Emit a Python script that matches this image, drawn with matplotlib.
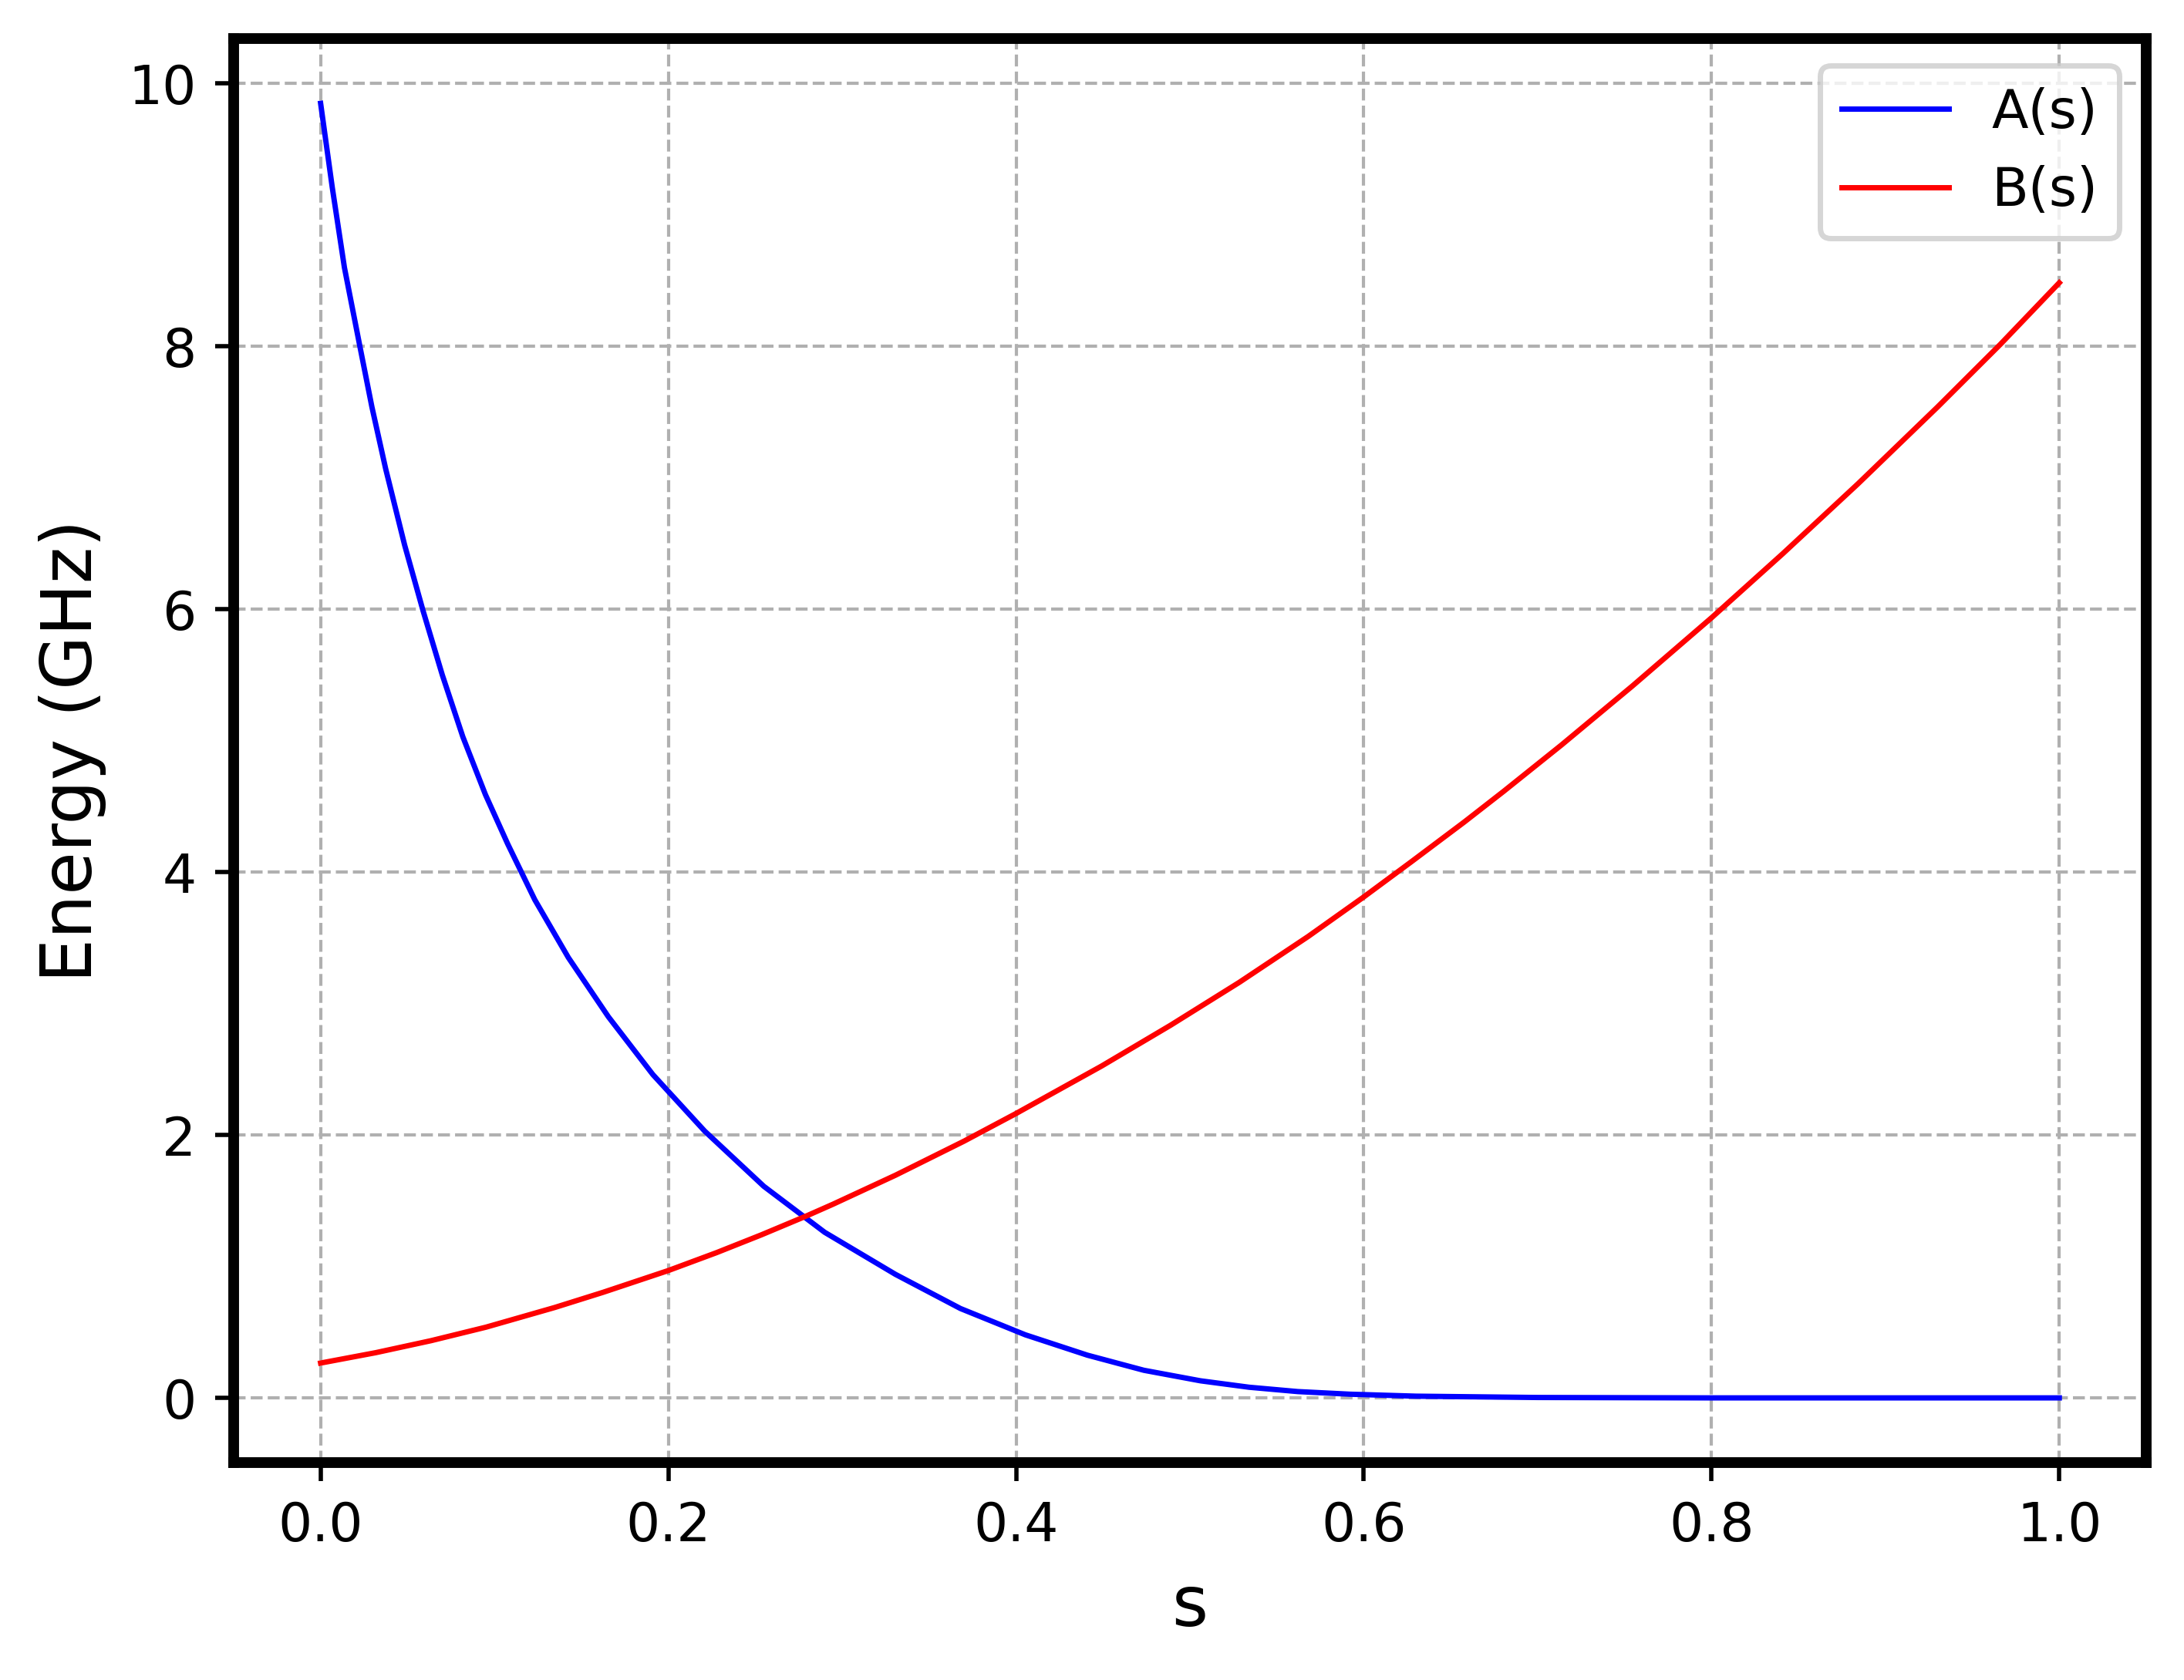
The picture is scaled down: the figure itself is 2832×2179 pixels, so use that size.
import matplotlib
matplotlib.use("Agg")
import matplotlib.pyplot as plt

# A(s)
s_a = [0.0, 0.0067, 0.0137, 0.0226, 0.0295, 0.0374, 0.0483, 0.0589, 0.070,
       0.0818, 0.0948, 0.1076, 0.1232, 0.1425, 0.1655, 0.1911, 0.2209, 0.2549,
       0.2899, 0.3306, 0.368, 0.4053, 0.441, 0.4735, 0.506, 0.534, 0.562,
       0.592, 0.63, 0.7, 0.8, 0.9, 1.0]
a_vals = [9.85, 9.21, 8.60, 8.0, 7.54, 7.07, 6.49, 5.99, 5.50,
          5.03, 4.59, 4.215, 3.79, 3.35, 2.90, 2.46, 2.03, 1.61,
          1.26, 0.94, 0.68, 0.48, 0.325, 0.21, 0.13, 0.081, 0.048,
          0.028, 0.013, 0.003, 0.0, 0.0, 0.0]

# B(s)
s_b = [0.0, 0.0317, 0.0634, 0.0951, 0.1347, 0.1624, 0.2, 0.2277, 0.2534,
       0.2792, 0.2946, 0.3306, 0.37, 0.4, 0.4492, 0.4888, 0.5284, 0.568,
       0.6, 0.6274, 0.6577, 0.6804, 0.7136, 0.7544, 0.8, 0.841, 0.8842,
       0.930, 0.966, 1.0]
b_vals = [0.265, 0.344, 0.435, 0.538, 0.688, 0.803, 0.969, 1.105, 1.240,
          1.383, 1.473, 1.694, 1.953, 2.164, 2.525, 2.835, 3.162, 3.511,
          3.812, 4.080, 4.381, 4.615, 4.967, 5.416, 5.936, 6.424, 6.955,
          7.540, 8.015, 8.485]

fig = plt.figure(figsize=(2832 / 500, 2179 / 500), dpi=500)
fig.subplots_adjust(left=0.107, right=0.9827, bottom=0.1294, top=0.977)
ax = fig.add_subplot(111)

ax.plot(s_a, a_vals, color='blue', linewidth=1, label='A(s)')
ax.plot(s_b, b_vals, color='red', linewidth=1, label='B(s)')

ax.set_xlabel('s', fontsize=13)
ax.set_ylabel('Energy (GHz)', fontsize=13)
ax.grid(True, linestyle='--', linewidth=0.6, color='#b0b0b0')
ax.legend(loc='upper right')
for sp in ax.spines.values():
    sp.set_linewidth(2)

fig.savefig('out.png', dpi=500)
